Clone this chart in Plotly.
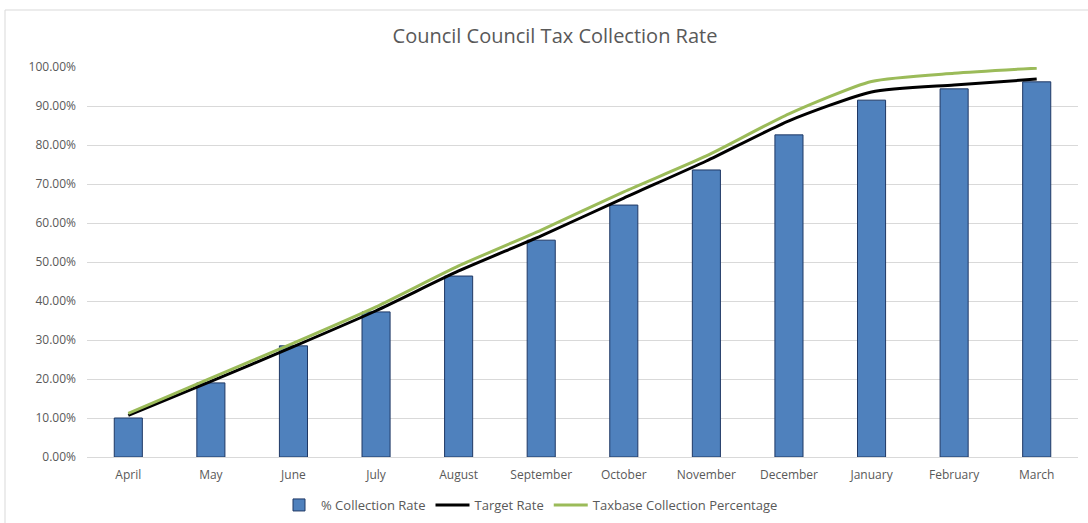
import plotly.graph_objects as go

months = ["April", "May", "June", "July", "August", "September", "October",
          "November", "December", "January", "February", "March"]
collection_rate = [0.100, 0.190, 0.285, 0.372, 0.464, 0.556, 0.646, 0.736, 0.826, 0.915, 0.944, 0.962]
target_rate = [0.107, 0.194, 0.283, 0.375, 0.477, 0.567, 0.664, 0.759, 0.862, 0.936, 0.954, 0.969]
taxbase_pct = [0.112, 0.202, 0.292, 0.385, 0.490, 0.582, 0.680, 0.772, 0.880, 0.963, 0.984, 0.997]

fig = go.Figure()
fig.add_trace(go.Bar(
    x=months, y=collection_rate, name="% Collection Rate",
    marker=dict(color="#4F81BD", line=dict(color="#1F3864", width=1)),
    width=0.34,
))
fig.add_trace(go.Scatter(
    x=months, y=target_rate, name="Target Rate", mode="lines",
    line=dict(color="#000000", width=3, shape="spline", smoothing=0.6),
))
fig.add_trace(go.Scatter(
    x=months, y=taxbase_pct, name="Taxbase Collection Percentage", mode="lines",
    line=dict(color="#9BBB59", width=3, shape="spline", smoothing=0.6),
))

FONT = "Open Sans, sans-serif"
fig.update_layout(
    width=1088, height=523,
    paper_bgcolor="white", plot_bgcolor="white",
    margin=dict(l=87, r=10, t=67, b=66, autoexpand=False),
    title=dict(text="Council Council Tax Collection Rate", x=555 / 1088, xanchor="center",
               y=1 - 36 / 523, yanchor="middle",
               font=dict(family=FONT, size=20, color="#595959")),
    font=dict(family=FONT, size=12, color="#595959"),
    showlegend=True,
    legend=dict(orientation="h", x=(530 - 87) / 991, xanchor="center",
                y=(457 - 505) / 390, yanchor="middle",
                font=dict(size=13, color="#595959"), itemwidth=34),
    bargap=0.66,
)
fig.update_yaxes(range=[0, 1.0], dtick=0.1, tickformat=".2%", showgrid=True,
                 gridcolor="#D9D9D9", gridwidth=1, zeroline=False, showline=False,
                 ticks="", ticklabelstandoff=10, tickfont=dict(size=12, color="#595959"))
fig.update_xaxes(showgrid=False, showline=True, linecolor="#D9D9D9", ticks="",
                 ticklabelstandoff=7, tickfont=dict(size=12, color="#595959"))

# chart outer border (top and left edges visible)
fig.add_shape(type="rect", xref="paper", yref="paper",
              x0=(5 - 87) / 991, x1=(1100 - 87) / 991,
              y0=(457 - 540) / 390, y1=(457 - 10) / 390,
              line=dict(color="#D9D9D9", width=1), fillcolor="rgba(0,0,0,0)", layer="below")

fig.write_html("out.html", config={"displayModeBar": False},
               post_script="document.body.style.margin='0';")
